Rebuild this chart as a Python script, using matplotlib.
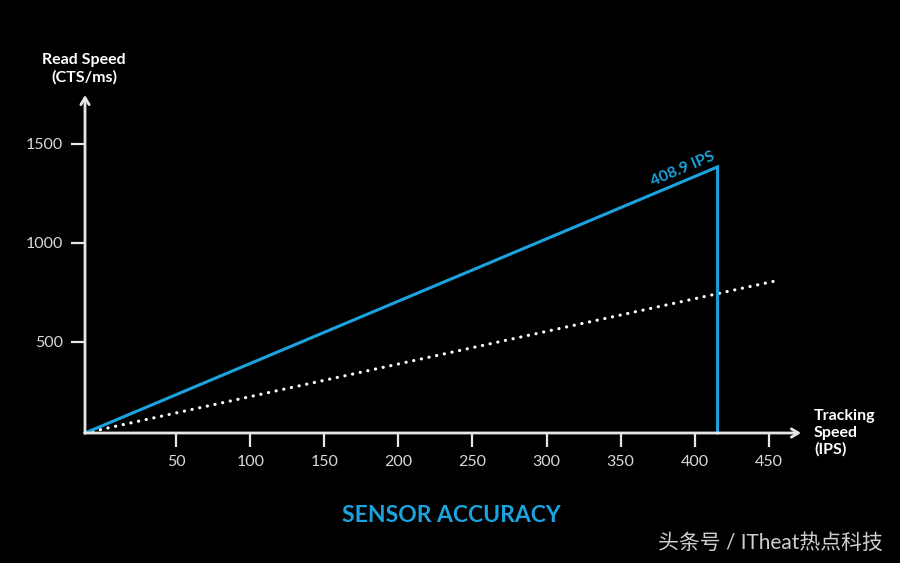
import matplotlib
matplotlib.use("Agg")
import matplotlib.pyplot as plt

# ---- data ----
x_ticks = [50, 100, 150, 200, 250, 300, 350, 400, 450]
y_ticks = [500, 1000, 1500]
axis_origin_x = -11.5
axis_origin_y = 40
x_max = 471.7
y_max = 1747

solid_x = [-11.5, 415.4, 415.4]
solid_y = [40, 1384, 40]
dotted_x = [-11.5, 457.5]
dotted_y = [40, 813]

peak_label = "408.9 IPS"
peak_label_x = 392
peak_label_y = 1374

title = "SENSOR ACCURACY"
y_label = "Read Speed\n(CTS/ms)"
x_label = "Tracking\nSpeed\n(IPS)"
watermark = "头条号 / ITheat热点科技"

BLUE = "#1ba3e0"
AXIS = "#e6e6e6"
TXT = "#d9d9d9"

plt.rcParams['font.family'] = ['Lato', 'Noto Sans CJK SC', 'DejaVu Sans']

fig = plt.figure(figsize=(9, 5.63), dpi=100, facecolor='black')
ax = fig.add_axes([85/900, (563-433)/563, 716/900, 338/563])
ax.set_facecolor('black')
ax.set_xlim(axis_origin_x, x_max)
ax.set_ylim(axis_origin_y, y_max)
for s in ax.spines.values():
    s.set_visible(False)

# axes with arrows
ax.annotate('', xy=(1, 0), xytext=(0, 0), xycoords='axes fraction',
            arrowprops=dict(arrowstyle='->,head_length=0.5,head_width=0.3', color=AXIS, lw=2, shrinkA=0, shrinkB=0))
ax.annotate('', xy=(0, 1), xytext=(0, 0), xycoords='axes fraction',
            arrowprops=dict(arrowstyle='->,head_length=0.5,head_width=0.3', color=AXIS, lw=2, shrinkA=0, shrinkB=0))

ax.set_xticks(x_ticks)
ax.set_xticklabels([str(v) for v in x_ticks])
ax.set_yticks(y_ticks)
ax.set_yticklabels([str(v) for v in y_ticks])
ax.tick_params(axis='both', colors=AXIS, labelcolor=TXT, length=10, width=1.6,
               direction='out', labelsize=11.5)
ax.tick_params(axis='x', pad=6)
ax.tick_params(axis='y', pad=6)

ax.plot(dotted_x, dotted_y, color='white', lw=2.3, linestyle=(0, (0.05, 2.4)),
        dash_capstyle='round', solid_capstyle='round', clip_on=False)
ax.plot(solid_x, solid_y, color=BLUE, lw=2.2, clip_on=False, solid_joinstyle='miter')

ax.text(peak_label_x, peak_label_y, peak_label, color=BLUE, fontsize=11.5,
        fontweight='bold', rotation=23, ha='center', va='center', rotation_mode='anchor')

fig.text(84/900, 1 - 69/563, y_label, color='white', fontsize=11.5, fontweight='bold',
         ha='center', va='center', linespacing=1.3)
fig.text(814/900, 1 - 433/563, x_label, color='white', fontsize=11.5, fontweight='bold',
         ha='left', va='center', linespacing=1.25)
fig.text(451/900, 1 - 515/563, title, color=BLUE, fontsize=16.5, fontweight='bold',
         ha='center', va='center')
fig.text(770/900, 1 - 543/563, watermark, color='#cfcfcf', fontsize=15,
         ha='center', va='center')

fig.savefig('out.png', dpi=100, facecolor='black')
